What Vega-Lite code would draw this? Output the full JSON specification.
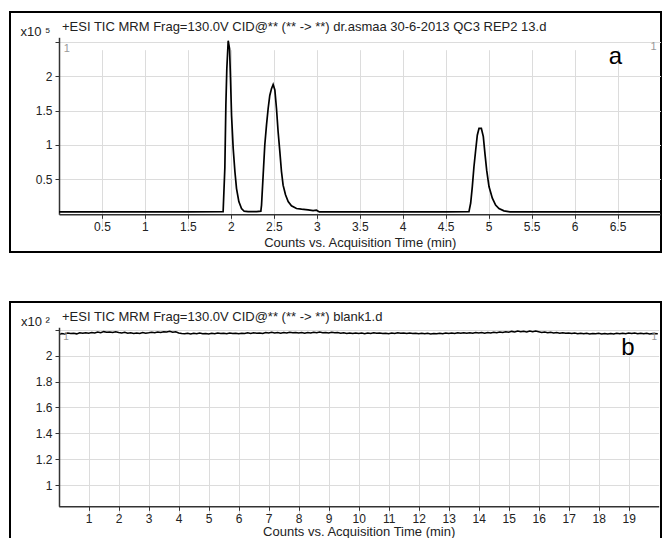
{
  "$schema": "https://vega.github.io/schema/vega-lite/v6.json",
  "padding": {"left": 9, "top": 11, "right": 0, "bottom": 0},
  "background": "white",
  "spacing": 48,
  "config": {
    "view": {"stroke": "black", "strokeWidth": 2},
    "font": "Liberation Sans",
    "axis": {
      "labelFont": "Liberation Sans", "labelFontSize": 12, "labelColor": "#222", "labelOverlap": false,
      "titleFont": "Liberation Sans", "titleFontSize": 13, "titleFontWeight": "normal", "titleColor": "#222",
      "gridColor": "#dcdcdc", "gridWidth": 1, "gridOpacity": 1,
      "domainColor": "#333", "domainWidth": 1.5, "tickColor": "#333", "tickSize": 4, "labelPadding": 3
    }
  },
  "datasets": {
    "top": [
      {"t": 0, "v": 0.02}, {"t": 0.5, "v": 0.021}, {"t": 1.0, "v": 0.02}, {"t": 1.5, "v": 0.021},
      {"t": 1.91, "v": 0.022}, {"t": 1.93, "v": 0.66}, {"t": 1.942, "v": 1.58}, {"t": 1.953, "v": 2.11},
      {"t": 1.969, "v": 2.52}, {"t": 1.985, "v": 2.4}, {"t": 1.996, "v": 1.97}, {"t": 2.008, "v": 1.43},
      {"t": 2.027, "v": 0.95}, {"t": 2.047, "v": 0.61}, {"t": 2.066, "v": 0.36}, {"t": 2.093, "v": 0.17},
      {"t": 2.124, "v": 0.07}, {"t": 2.155, "v": 0.03}, {"t": 2.2, "v": 0.025}, {"t": 2.3, "v": 0.025},
      {"t": 2.349, "v": 0.03}, {"t": 2.357, "v": 0.12}, {"t": 2.376, "v": 0.56}, {"t": 2.395, "v": 1.0},
      {"t": 2.415, "v": 1.29}, {"t": 2.434, "v": 1.53}, {"t": 2.453, "v": 1.72}, {"t": 2.473, "v": 1.82},
      {"t": 2.492, "v": 1.88}, {"t": 2.512, "v": 1.8}, {"t": 2.531, "v": 1.53}, {"t": 2.55, "v": 1.19},
      {"t": 2.57, "v": 0.9}, {"t": 2.589, "v": 0.61}, {"t": 2.608, "v": 0.41}, {"t": 2.636, "v": 0.27},
      {"t": 2.667, "v": 0.17}, {"t": 2.705, "v": 0.11}, {"t": 2.764, "v": 0.07}, {"t": 2.822, "v": 0.06},
      {"t": 2.899, "v": 0.05}, {"t": 2.957, "v": 0.04}, {"t": 2.996, "v": 0.045}, {"t": 3.03, "v": 0.02},
      {"t": 3.5, "v": 0.02}, {"t": 4.0, "v": 0.021}, {"t": 4.5, "v": 0.02}, {"t": 4.771, "v": 0.025},
      {"t": 4.791, "v": 0.15}, {"t": 4.81, "v": 0.39}, {"t": 4.829, "v": 0.68}, {"t": 4.849, "v": 0.92},
      {"t": 4.868, "v": 1.14}, {"t": 4.888, "v": 1.24}, {"t": 4.915, "v": 1.24}, {"t": 4.938, "v": 1.12},
      {"t": 4.957, "v": 0.87}, {"t": 4.977, "v": 0.63}, {"t": 5.004, "v": 0.39}, {"t": 5.043, "v": 0.22},
      {"t": 5.081, "v": 0.12}, {"t": 5.12, "v": 0.07}, {"t": 5.178, "v": 0.035}, {"t": 5.25, "v": 0.02},
      {"t": 6.0, "v": 0.021}, {"t": 7.0, "v": 0.02}
    ],
    "blank": [
      {"t": 0.05, "v": 2.165}, {"t": 0.1, "v": 2.172}, {"t": 0.2, "v": 2.168}, {"t": 0.3, "v": 2.176}, {"t": 0.4, "v": 2.171}, {"t": 0.5, "v": 2.174}, {"t": 0.6, "v": 2.169}, {"t": 0.7, "v": 2.177}, {"t": 0.8, "v": 2.173}, {"t": 0.9, "v": 2.178},
      {"t": 1.0, "v": 2.174}, {"t": 1.1, "v": 2.179}, {"t": 1.2, "v": 2.176}, {"t": 1.3, "v": 2.183}, {"t": 1.4, "v": 2.178}, {"t": 1.5, "v": 2.186}, {"t": 1.6, "v": 2.181}, {"t": 1.7, "v": 2.184}, {"t": 1.8, "v": 2.179}, {"t": 1.9, "v": 2.185},
      {"t": 2.0, "v": 2.18}, {"t": 2.1, "v": 2.176}, {"t": 2.2, "v": 2.181}, {"t": 2.3, "v": 2.173}, {"t": 2.4, "v": 2.178}, {"t": 2.5, "v": 2.171}, {"t": 2.6, "v": 2.176}, {"t": 2.7, "v": 2.172}, {"t": 2.8, "v": 2.179}, {"t": 2.9, "v": 2.174},
      {"t": 3.0, "v": 2.177}, {"t": 3.1, "v": 2.181}, {"t": 3.2, "v": 2.178}, {"t": 3.3, "v": 2.184}, {"t": 3.4, "v": 2.18}, {"t": 3.5, "v": 2.186}, {"t": 3.6, "v": 2.183}, {"t": 3.7, "v": 2.189}, {"t": 3.8, "v": 2.181}, {"t": 3.9, "v": 2.185},
      {"t": 4.0, "v": 2.176}, {"t": 4.1, "v": 2.172}, {"t": 4.2, "v": 2.169}, {"t": 4.3, "v": 2.174}, {"t": 4.4, "v": 2.168}, {"t": 4.5, "v": 2.173}, {"t": 4.6, "v": 2.17}, {"t": 4.7, "v": 2.175}, {"t": 4.8, "v": 2.169}, {"t": 4.9, "v": 2.172},
      {"t": 5.0, "v": 2.168}, {"t": 5.1, "v": 2.173}, {"t": 5.2, "v": 2.17}, {"t": 5.3, "v": 2.176}, {"t": 5.4, "v": 2.171}, {"t": 5.5, "v": 2.174}, {"t": 5.6, "v": 2.17}, {"t": 5.7, "v": 2.175}, {"t": 5.8, "v": 2.171}, {"t": 5.9, "v": 2.173},
      {"t": 6.0, "v": 2.169}, {"t": 6.1, "v": 2.174}, {"t": 6.2, "v": 2.171}, {"t": 6.3, "v": 2.177}, {"t": 6.4, "v": 2.172}, {"t": 6.5, "v": 2.178}, {"t": 6.6, "v": 2.173}, {"t": 6.7, "v": 2.176}, {"t": 6.8, "v": 2.172}, {"t": 6.9, "v": 2.179},
      {"t": 7.0, "v": 2.175}, {"t": 7.1, "v": 2.181}, {"t": 7.2, "v": 2.176}, {"t": 7.3, "v": 2.179}, {"t": 7.4, "v": 2.174}, {"t": 7.5, "v": 2.18}, {"t": 7.6, "v": 2.176}, {"t": 7.7, "v": 2.182}, {"t": 7.8, "v": 2.177}, {"t": 7.9, "v": 2.18},
      {"t": 8.0, "v": 2.175}, {"t": 8.1, "v": 2.179}, {"t": 8.2, "v": 2.174}, {"t": 8.3, "v": 2.18}, {"t": 8.4, "v": 2.176}, {"t": 8.5, "v": 2.181}, {"t": 8.6, "v": 2.177}, {"t": 8.7, "v": 2.183}, {"t": 8.8, "v": 2.178}, {"t": 8.9, "v": 2.18},
      {"t": 9.0, "v": 2.176}, {"t": 9.1, "v": 2.181}, {"t": 9.2, "v": 2.177}, {"t": 9.3, "v": 2.179}, {"t": 9.4, "v": 2.173}, {"t": 9.5, "v": 2.177}, {"t": 9.6, "v": 2.172}, {"t": 9.7, "v": 2.176}, {"t": 9.8, "v": 2.171}, {"t": 9.9, "v": 2.175},
      {"t": 10.0, "v": 2.172}, {"t": 10.1, "v": 2.176}, {"t": 10.2, "v": 2.17}, {"t": 10.3, "v": 2.175}, {"t": 10.4, "v": 2.171}, {"t": 10.5, "v": 2.177}, {"t": 10.6, "v": 2.173}, {"t": 10.7, "v": 2.176}, {"t": 10.8, "v": 2.171}, {"t": 10.9, "v": 2.174},
      {"t": 11.0, "v": 2.17}, {"t": 11.1, "v": 2.175}, {"t": 11.2, "v": 2.172}, {"t": 11.3, "v": 2.177}, {"t": 11.4, "v": 2.173}, {"t": 11.5, "v": 2.176}, {"t": 11.6, "v": 2.171}, {"t": 11.7, "v": 2.175}, {"t": 11.8, "v": 2.172}, {"t": 11.9, "v": 2.174},
      {"t": 12.0, "v": 2.17}, {"t": 12.1, "v": 2.174}, {"t": 12.2, "v": 2.169}, {"t": 12.3, "v": 2.173}, {"t": 12.4, "v": 2.168}, {"t": 12.5, "v": 2.172}, {"t": 12.6, "v": 2.169}, {"t": 12.7, "v": 2.174}, {"t": 12.8, "v": 2.17}, {"t": 12.9, "v": 2.175},
      {"t": 13.0, "v": 2.171}, {"t": 13.1, "v": 2.176}, {"t": 13.2, "v": 2.172}, {"t": 13.3, "v": 2.177}, {"t": 13.4, "v": 2.173}, {"t": 13.5, "v": 2.178}, {"t": 13.6, "v": 2.174}, {"t": 13.7, "v": 2.177}, {"t": 13.8, "v": 2.173}, {"t": 13.9, "v": 2.179},
      {"t": 14.0, "v": 2.175}, {"t": 14.1, "v": 2.179}, {"t": 14.2, "v": 2.174}, {"t": 14.3, "v": 2.18}, {"t": 14.4, "v": 2.176}, {"t": 14.5, "v": 2.181}, {"t": 14.6, "v": 2.177}, {"t": 14.7, "v": 2.183}, {"t": 14.8, "v": 2.179}, {"t": 14.9, "v": 2.185},
      {"t": 15.0, "v": 2.181}, {"t": 15.1, "v": 2.188}, {"t": 15.2, "v": 2.184}, {"t": 15.3, "v": 2.19}, {"t": 15.4, "v": 2.185}, {"t": 15.5, "v": 2.189}, {"t": 15.6, "v": 2.184}, {"t": 15.7, "v": 2.191}, {"t": 15.8, "v": 2.186}, {"t": 15.9, "v": 2.19},
      {"t": 16.0, "v": 2.185}, {"t": 16.1, "v": 2.18}, {"t": 16.2, "v": 2.183}, {"t": 16.3, "v": 2.177}, {"t": 16.4, "v": 2.181}, {"t": 16.5, "v": 2.176}, {"t": 16.6, "v": 2.179}, {"t": 16.7, "v": 2.174}, {"t": 16.8, "v": 2.178}, {"t": 16.9, "v": 2.173},
      {"t": 17.0, "v": 2.176}, {"t": 17.1, "v": 2.171}, {"t": 17.2, "v": 2.175}, {"t": 17.3, "v": 2.17}, {"t": 17.4, "v": 2.174}, {"t": 17.5, "v": 2.169}, {"t": 17.6, "v": 2.173}, {"t": 17.7, "v": 2.168}, {"t": 17.8, "v": 2.172}, {"t": 17.9, "v": 2.169},
      {"t": 18.0, "v": 2.173}, {"t": 18.1, "v": 2.168}, {"t": 18.2, "v": 2.172}, {"t": 18.3, "v": 2.167}, {"t": 18.4, "v": 2.171}, {"t": 18.5, "v": 2.168}, {"t": 18.6, "v": 2.173}, {"t": 18.7, "v": 2.169}, {"t": 18.8, "v": 2.174}, {"t": 18.9, "v": 2.17},
      {"t": 19.0, "v": 2.175}, {"t": 19.1, "v": 2.171}, {"t": 19.2, "v": 2.176}, {"t": 19.3, "v": 2.17}, {"t": 19.4, "v": 2.174}, {"t": 19.5, "v": 2.169}, {"t": 19.6, "v": 2.173}, {"t": 19.7, "v": 2.168}, {"t": 19.8, "v": 2.172}, {"t": 19.97, "v": 2.17}
    ]
  },
  "vconcat": [
    {
      "width": 651,
      "height": 240,
      "title": {"text": "+ESI TIC MRM Frag=130.0V CID@** (** -> **) dr.asmaa 30-6-2013 QC3 REP2 13.d", "anchor": "start", "frame": "group", "offset": -22, "dx": 52, "fontSize": 13, "fontWeight": "normal", "font": "Liberation Sans", "color": "#222"},
      "layer": [
        {
          "data": {"name": "top"},
          "mark": {"type": "line", "color": "black", "strokeWidth": 1.7, "clip": true},
          "encoding": {
            "x": {"field": "t", "type": "quantitative",
              "scale": {"domain": [0, 7], "range": [49, 650.5], "nice": false, "zero": false},
              "axis": {"values": [0.5, 1, 1.5, 2, 2.5, 3, 3.5, 4, 4.5, 5, 5.5, 6, 6.5], "tickCount": 40, "format": "~g", "labelOverlap": false, "offset": -37.7, "title": "Counts vs. Acquisition Time (min)", "titleY": 32, "titleBaseline": "alphabetic"}},
            "y": {"field": "v", "type": "quantitative",
              "scale": {"domain": [-0.015, 2.57], "range": [202.3, 25.3], "nice": false, "zero": false},
              "axis": {"values": [0.5, 1, 1.5, 2, 2.5], "tickCount": 20, "format": "~g", "labelOverlap": false, "labelExpr": "datum.value > 2.4 ? '' : datum.label", "offset": -49, "title": "x10 ⁵", "titleFontSize": 13, "titleAngle": 0, "titleX": -24, "titleY": 19, "titleAlign": "center", "titleBaseline": "middle"}}
          }
        },
        {
          "data": {"values": [{"label": "a"}]},
          "mark": {"type": "text", "fontSize": 24, "font": "Liberation Sans", "color": "black", "align": "center", "baseline": "alphabetic"},
          "encoding": {"x": {"datum": 6.475}, "y": {"datum": 2.18}, "text": {"field": "label"}}
        },
        {
          "data": {"values": [{"label": "1"}]},
          "mark": {"type": "text", "fontSize": 11, "font": "Liberation Sans", "color": "#999", "align": "left", "baseline": "alphabetic"},
          "encoding": {"x": {"datum": 0.055}, "y": {"datum": 2.36}, "text": {"field": "label"}}
        },
        {
          "data": {"values": [{"label": "1"}]},
          "mark": {"type": "text", "fontSize": 11, "font": "Liberation Sans", "color": "#999", "align": "center", "baseline": "alphabetic"},
          "encoding": {"x": {"datum": 6.92}, "y": {"datum": 2.385}, "text": {"field": "label"}}
        }
      ]
    },
    {
      "width": 651,
      "height": 240,
      "title": {"text": "+ESI TIC MRM Frag=130.0V CID@** (** -> **) blank1.d", "anchor": "start", "frame": "group", "offset": -22, "dx": 52, "fontSize": 13, "fontWeight": "normal", "font": "Liberation Sans", "color": "#222"},
      "layer": [
        {
          "data": {"name": "blank"},
          "mark": {"type": "line", "color": "black", "strokeWidth": 1.5, "clip": true},
          "encoding": {
            "x": {"field": "t", "type": "quantitative",
              "scale": {"domain": [0, 20], "range": [48.7, 648.7], "nice": false, "zero": false},
              "axis": {"values": [1, 2, 3, 4, 5, 6, 7, 8, 9, 10, 11, 12, 13, 14, 15, 16, 17, 18, 19], "tickCount": 40, "format": "~g", "labelOverlap": false, "offset": -35.7, "title": "Counts vs. Acquisition Time (min)", "titleY": 29, "titleBaseline": "alphabetic"}},
            "y": {"field": "v", "type": "quantitative",
              "scale": {"domain": [0.836, 2.22], "range": [204.3, 25.25], "nice": false, "zero": false},
              "axis": {"values": [1, 1.2, 1.4, 1.6, 1.8, 2, 2.2], "tickCount": 20, "format": "~g", "labelOverlap": false, "labelExpr": "datum.value > 2.1 ? '' : datum.label", "offset": -49, "title": "x10 ²", "titleFontSize": 13, "titleAngle": 0, "titleX": -24, "titleY": 19, "titleAlign": "center", "titleBaseline": "middle"}}
          }
        },
        {
          "data": {"values": [{"label": "b"}]},
          "mark": {"type": "text", "fontSize": 24, "font": "Liberation Sans", "color": "black", "align": "center", "baseline": "alphabetic"},
          "encoding": {"x": {"datum": 18.97}, "y": {"datum": 2.005}, "text": {"field": "label"}}
        },
        {
          "data": {"values": [{"label": "1"}]},
          "mark": {"type": "text", "fontSize": 10, "font": "Liberation Sans", "color": "#999", "align": "left", "baseline": "alphabetic"},
          "encoding": {"x": {"datum": 0.15}, "y": {"datum": 2.12}, "text": {"field": "label"}}
        },
        {
          "data": {"values": [{"label": "1"}]},
          "mark": {"type": "text", "fontSize": 10, "font": "Liberation Sans", "color": "#999", "align": "center", "baseline": "alphabetic"},
          "encoding": {"x": {"datum": 19.85}, "y": {"datum": 2.12}, "text": {"field": "label"}}
        }
      ]
    }
  ]
}
